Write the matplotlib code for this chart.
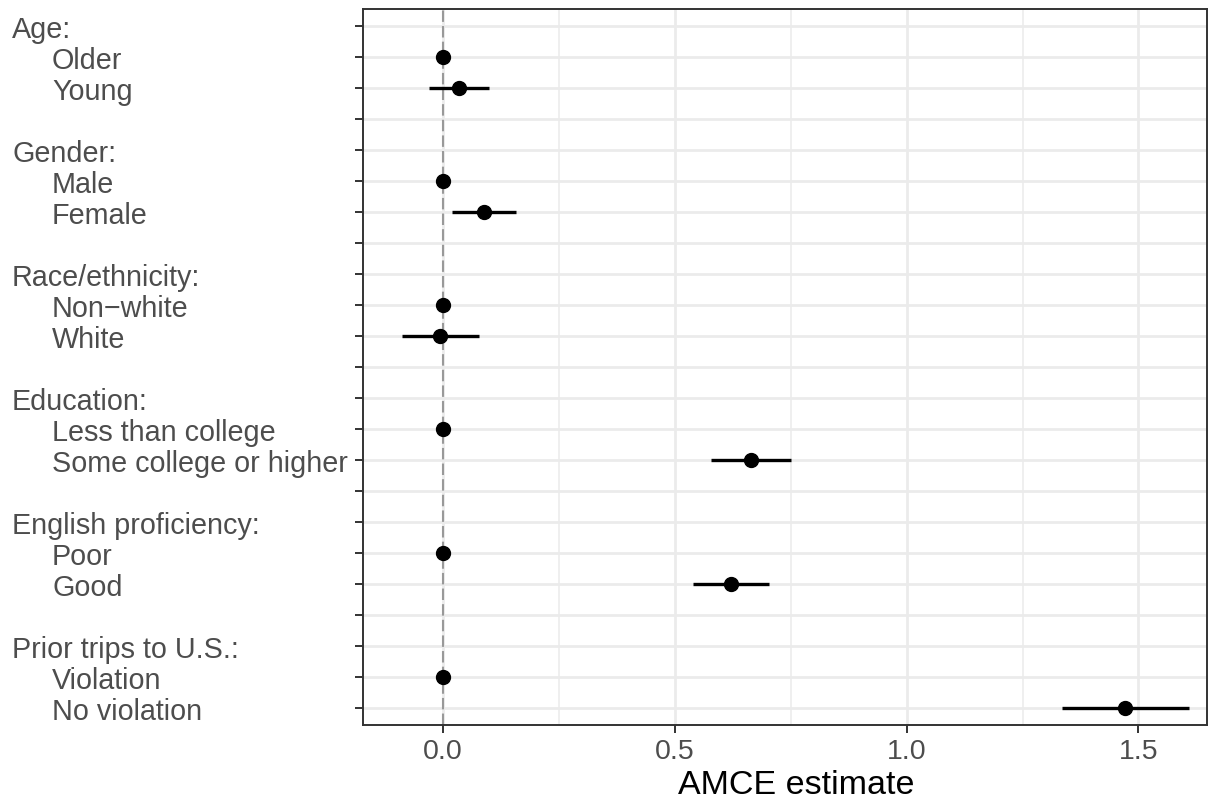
import numpy as np
import matplotlib.pyplot as plt
from matplotlib.ticker import MultipleLocator
from matplotlib.transforms import blended_transform_factory

plt.rcParams['font.family'] = ['Liberation Sans', 'DejaVu Sans']

# attribute levels, top to bottom (blank rows separate attributes)
row_labels = ['Age:', 'Older', 'Young', '',
              'Gender:', 'Male', 'Female', '',
              'Race/ethnicity:', 'Non\u2212white', 'White', '',
              'Education:', 'Less than college', 'Some college or higher', '',
              'English proficiency:', 'Poor', 'Good', '',
              'Prior trips to U.S.:', 'Violation', 'No violation']
is_header = [lab.endswith(':') for lab in row_labels]

nan = np.nan
estimate = [nan, 0.0, 0.034, nan,
            nan, 0.0, 0.088, nan,
            nan, 0.0, -0.006, nan,
            nan, 0.0, 0.664, nan,
            nan, 0.0, 0.620, nan,
            nan, 0.0, 1.472]
lower = [nan, nan, -0.030, nan,
         nan, nan, 0.019, nan,
         nan, nan, -0.088, nan,
         nan, nan, 0.578, nan,
         nan, nan, 0.538, nan,
         nan, nan, 1.335]
upper = [nan, nan, 0.099, nan,
         nan, nan, 0.157, nan,
         nan, nan, 0.077, nan,
         nan, nan, 0.750, nan,
         nan, nan, 0.703, nan,
         nan, nan, 1.609]

W, H = 1225, 808
fig = plt.figure(figsize=(W / 100, H / 100), dpi=100)
ax = fig.add_axes([363 / W, 1 - 725 / H, (1207 - 363) / W, (725 - 9) / H])

ypos = np.arange(len(row_labels))
est = np.array(estimate)
lo = np.array(lower)
hi = np.array(upper)

# grid
ax.set_axisbelow(True)
ax.xaxis.set_major_locator(MultipleLocator(0.5))
ax.xaxis.set_minor_locator(MultipleLocator(0.25))
ax.set_yticks(ypos)
ax.set_yticklabels([])
ax.grid(True, which='major', axis='both', color='#EBEBEB', linewidth=2.0)
ax.grid(True, which='minor', axis='x', color='#EBEBEB', linewidth=1.1)

ax.axvline(0, color='#999999', linewidth=1.5, dashes=(5.5, 2), zorder=2)

ax.hlines(ypos, lo, hi, color='black', linewidth=2.4, zorder=3)
ax.plot(est, ypos, 'o', color='black', markersize=10, zorder=4)

ax.set_xlim(-0.173, 1.648)
ax.set_ylim(len(row_labels) - 1 + 0.55, -0.55)

ax.xaxis.set_major_formatter(plt.FuncFormatter(lambda v, p: f'{v:.1f}'))
ax.tick_params(axis='x', which='minor', length=0)
ax.tick_params(axis='both', which='major', length=6, width=1.4, color='#333333',
               labelsize=20.5, labelcolor='#4D4D4D', pad=4)
for s in ax.spines.values():
    s.set_color('#333333')
    s.set_linewidth(1.4)

ax.set_xlabel('AMCE estimate', fontsize=24.5, color='black', labelpad=3)
ax.xaxis.set_label_coords(0.5136, -0.063)
ax.xaxis.label.set_va('top')

# row labels, left aligned with indented levels
trans = blended_transform_factory(fig.transFigure, ax.transData)
for y, lab, head in zip(ypos, row_labels, is_header):
    if not lab:
        continue
    xpix = 12 if head else 52
    ax.text(xpix / W, y + 0.40, lab, transform=trans,
            ha='left', va='baseline', fontsize=20.7, color='#4D4D4D')

fig.savefig('out.png', dpi=100)
